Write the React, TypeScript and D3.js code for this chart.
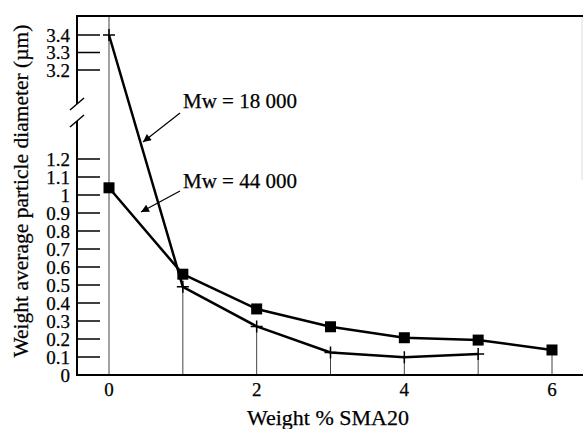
import React, { useEffect, useRef } from "react";
import * as d3 from "d3";

// Weight % SMA20
const xValues18 = [0, 1, 2, 3, 4, 5];
const mw18000 = [3.4, 0.49, 0.27, 0.125, 0.098, 0.117];

const xValues44 = [0, 1, 2, 3, 4, 5, 6];
const mw44000 = [1.04, 0.56, 0.367, 0.268, 0.207, 0.194, 0.139];

const xTicks = [0, 2, 4, 6];
const yTicksLow = [0, 0.1, 0.2, 0.3, 0.4, 0.5, 0.6, 0.7, 0.8, 0.9, 1, 1.1, 1.2];
const yTicksHigh = [3.2, 3.3, 3.4];

const FONT = "'Liberation Serif', 'Times New Roman', serif";

const App = () => {
  const svgRef = useRef<SVGSVGElement>(null);

  useEffect(() => {
    const svg = d3.select(svgRef.current);
    svg.selectAll("*").remove();

    const left = 77;
    const top = 16;
    const bottom = 375;
    const right = 583;

    const x = d3.scaleLinear().domain([0, 6]).range([109, 552]);
    const yLow = d3.scaleLinear().domain([0, 1.2]).range([bottom, 159]);
    const yHigh = d3.scaleLinear().domain([3.2, 3.4]).range([70, 35]);
    // broken axis: values above 3 go on the upper scale
    const y = (v: number) => (v >= 3 ? yHigh(v) : yLow(v));

    const g = svg.append("g");

    // faint right edge
    g.append("line")
      .attr("x1", 582).attr("x2", 582).attr("y1", top).attr("y2", 180)
      .attr("stroke", "#ddd").attr("stroke-width", 1);

    // vertical line at x = 0
    g.append("line")
      .attr("x1", x(0)).attr("x2", x(0)).attr("y1", top).attr("y2", bottom)
      .attr("stroke", "#444").attr("stroke-width", 1);

    // drop lines from lowest marker to axis
    xValues44.slice(1).forEach((xv) => {
      const i18 = xValues18.indexOf(xv);
      const i44 = xValues44.indexOf(xv);
      const vals = [] as number[];
      if (i18 >= 0) vals.push(mw18000[i18]);
      if (i44 >= 0) vals.push(mw44000[i44]);
      const lo = d3.min(vals) as number;
      g.append("line")
        .attr("x1", x(xv)).attr("x2", x(xv))
        .attr("y1", y(lo)).attr("y2", bottom)
        .attr("stroke", "#444").attr("stroke-width", 1);
    });

    // frame
    g.append("line")
      .attr("x1", left).attr("x2", right).attr("y1", top).attr("y2", top)
      .attr("stroke", "#000").attr("stroke-width", 2);
    g.append("line")
      .attr("x1", left - 1).attr("x2", right).attr("y1", bottom).attr("y2", bottom)
      .attr("stroke", "#000").attr("stroke-width", 2);
    g.append("line")
      .attr("x1", left).attr("x2", left).attr("y1", top - 1).attr("y2", 104)
      .attr("stroke", "#000").attr("stroke-width", 2);
    g.append("line")
      .attr("x1", left).attr("x2", left).attr("y1", 121).attr("y2", bottom + 1)
      .attr("stroke", "#000").attr("stroke-width", 2);

    // break marks
    [[110, 98], [127, 115]].forEach(([y1, y2]) => {
      g.append("line")
        .attr("x1", 70).attr("x2", 84).attr("y1", y1).attr("y2", y2)
        .attr("stroke", "#000").attr("stroke-width", 1.5);
    });

    // y ticks (inward)
    const yTicks = [
      ...yTicksLow.map((v) => ({ v, py: yLow(v) })),
      ...yTicksHigh.map((v) => ({ v, py: yHigh(v) })),
    ];
    yTicks.forEach(({ v, py }) => {
      if (v > 0) {
        g.append("line")
          .attr("x1", left).attr("x2", left + 23).attr("y1", py).attr("y2", py)
          .attr("stroke", "#000").attr("stroke-width", 1.5);
      }
      g.append("text")
        .attr("x", 70).attr("y", py)
        .attr("dy", "0.35em")
        .attr("text-anchor", "end")
        .attr("font-family", FONT).attr("font-size", 19)
        .attr("stroke", "#000").attr("stroke-width", 0.25)
        .text(String(v));
    });

    // x tick labels
    xTicks.forEach((v) => {
      g.append("text")
        .attr("x", x(v)).attr("y", 396)
        .attr("text-anchor", "middle")
        .attr("font-family", FONT).attr("font-size", 19)
        .attr("stroke", "#000").attr("stroke-width", 0.25)
        .text(v);
    });

    // axis titles
    g.append("text")
      .attr("x", 328).attr("y", 425)
      .attr("text-anchor", "middle")
      .attr("font-family", FONT).attr("font-size", 22)
      .attr("stroke", "#000").attr("stroke-width", 0.25)
      .text("Weight % SMA20");
    g.append("text")
      .attr("transform", `translate(28,191) rotate(-90)`)
      .attr("text-anchor", "middle")
      .attr("font-family", FONT).attr("font-size", 21.5)
      .attr("stroke", "#000").attr("stroke-width", 0.25)
      .text("Weight average particle diameter (\u00b5m)");

    // series lines
    const line = d3
      .line<[number, number]>()
      .x((d) => x(d[0]))
      .y((d) => y(d[1]));

    const pts18 = xValues18.map((xv, i) => [xv, mw18000[i]] as [number, number]);
    const pts44 = xValues44.map((xv, i) => [xv, mw44000[i]] as [number, number]);

    g.append("path")
      .attr("d", line(pts18))
      .attr("fill", "none").attr("stroke", "#000").attr("stroke-width", 2.5)
      .attr("stroke-linejoin", "round");
    g.append("path")
      .attr("d", line(pts44))
      .attr("fill", "none").attr("stroke", "#000").attr("stroke-width", 2.5)
      .attr("stroke-linejoin", "round");

    // plus markers
    pts18.forEach(([xv, v]) => {
      const cx = x(xv);
      const cy = y(v);
      g.append("path")
        .attr("d", `M${cx - 6},${cy}H${cx + 6}M${cx},${cy - 6}V${cy + 6}`)
        .attr("stroke", "#000").attr("stroke-width", 1.5);
    });

    // square markers
    pts44.forEach(([xv, v]) => {
      g.append("rect")
        .attr("x", x(xv) - 5.5).attr("y", y(v) - 5.5)
        .attr("width", 11).attr("height", 11)
        .attr("fill", "#000");
    });

    // annotations
    const defs = svg.append("defs");
    defs.append("marker")
      .attr("id", "arrow")
      .attr("viewBox", "0 0 10 10")
      .attr("refX", 10).attr("refY", 5)
      .attr("markerWidth", 10).attr("markerHeight", 8)
      .attr("markerUnits", "userSpaceOnUse")
      .attr("orient", "auto")
      .append("path")
      .attr("d", "M0,0L10,5L0,10Z")
      .attr("fill", "#000");

    const notes = [
      { label: "Mw = 18 000", tx: 183, ty: 108, from: [180, 113], to: [143, 142] },
      { label: "Mw = 44 000", tx: 183, ty: 188, from: [180, 191], to: [141, 212] },
    ];
    notes.forEach((n) => {
      g.append("text")
        .attr("x", n.tx).attr("y", n.ty)
        .attr("font-family", FONT).attr("font-size", 21)
        .attr("stroke", "#000").attr("stroke-width", 0.25)
        .text(n.label);
      g.append("line")
        .attr("x1", n.from[0]).attr("y1", n.from[1])
        .attr("x2", n.to[0]).attr("y2", n.to[1])
        .attr("stroke", "#000").attr("stroke-width", 1.2)
        .attr("marker-end", "url(#arrow)");
    });
  }, []);

  return (
    <svg
      ref={svgRef}
      width={583}
      height={429}
      style={{ position: "absolute", left: 0, top: 0, background: "#fff" }}
    />
  );
};

export default App;
